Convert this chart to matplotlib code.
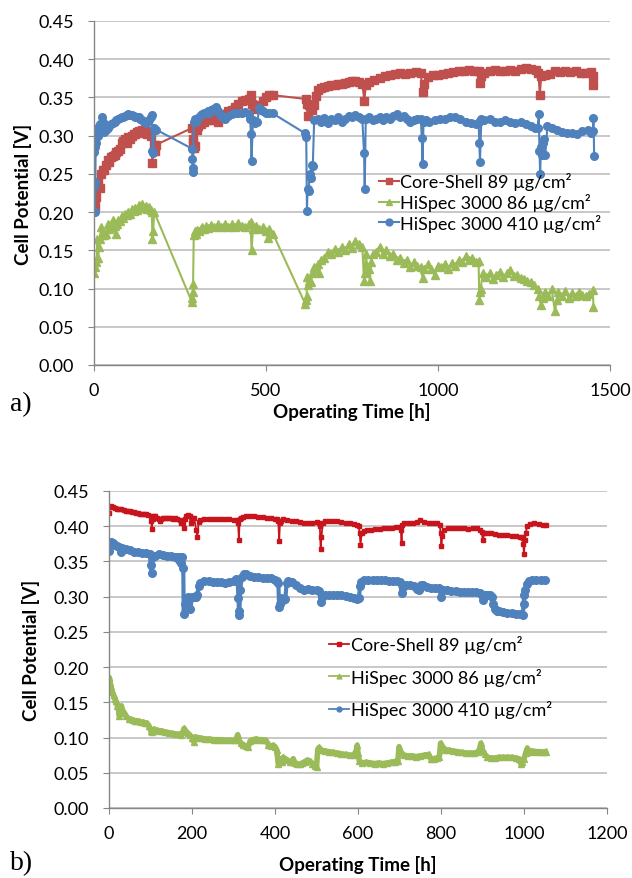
import matplotlib
matplotlib.use("Agg")
import matplotlib.pyplot as plt

# Colours (Excel style)
RED_A = '#C0504D'
RED_B = '#C8141C'
GREEN = '#9BBB59'
BLUE = '#4F81BD'

LABELS = ['Core-Shell 89 µg/cm²', 'HiSpec 3000 86 µg/cm²', 'HiSpec 3000 410 µg/cm²']

# ---------------- panel a) ----------------
t_cs_a = [0, 2, 4, 6, 8, 12, 16, 20, 25, 30, 35, 40, 45, 50, 55, 60, 65, 70, 75, 80, 85, 90, 95, 100,
          105, 110, 115, 120, 125, 130, 135, 140, 145, 150, 155, 160, 165, 170, 173, 176, 180,
          285, 287, 289, 292, 295, 298, 302, 310, 320, 330, 340, 350, 360, 370, 380, 390, 400, 410,
          420, 430, 440, 450, 455, 460, 465, 470, 480, 490, 500, 510, 520,
          615, 618, 621, 625, 630, 635, 640, 645, 650, 660, 670, 680, 690, 700, 710, 720, 730, 740,
          750, 760, 770, 780, 786, 790, 800, 815, 830, 845, 860, 875, 890, 905, 920, 935, 950, 955,
          960, 970, 985, 1000, 1015, 1030, 1045, 1060, 1075, 1090, 1105, 1118, 1122, 1126, 1135,
          1150, 1165, 1180, 1195, 1210, 1225, 1240, 1255, 1270, 1285, 1292, 1296, 1300, 1310, 1325,
          1340, 1355, 1370, 1385, 1400, 1415, 1430, 1445, 1450, 1452]
v_cs_a = [0.215, 0.208, 0.232, 0.22, 0.235, 0.24, 0.232, 0.25, 0.255, 0.255, 0.262, 0.268, 0.265,
          0.272, 0.274, 0.275, 0.278, 0.28, 0.283, 0.29, 0.293, 0.295, 0.29, 0.298,
          0.296, 0.3, 0.302, 0.302, 0.305, 0.306, 0.305, 0.307, 0.304, 0.306, 0.302, 0.303, 0.30,
          0.264, 0.288, 0.28, 0.288,
          0.31, 0.295, 0.29, 0.284, 0.286, 0.308, 0.312, 0.315, 0.318, 0.32, 0.32, 0.322, 0.318,
          0.325, 0.328, 0.332, 0.334, 0.338, 0.342, 0.345, 0.347, 0.348, 0.353, 0.342, 0.338,
          0.335, 0.34, 0.345, 0.35, 0.353, 0.353,
          0.348, 0.342, 0.326, 0.34, 0.338, 0.334, 0.34, 0.352, 0.36, 0.362, 0.364, 0.365, 0.366,
          0.366, 0.367, 0.368, 0.369, 0.37, 0.372, 0.371, 0.37, 0.368, 0.346, 0.366, 0.37, 0.373,
          0.376, 0.378, 0.38, 0.381, 0.382, 0.381, 0.382, 0.383, 0.382, 0.357,
          0.368, 0.377, 0.379, 0.379, 0.381, 0.382, 0.383, 0.384, 0.385, 0.386, 0.385, 0.384,
          0.369, 0.378, 0.382, 0.385, 0.386, 0.385, 0.385, 0.386, 0.385, 0.387, 0.388, 0.387,
          0.386, 0.382, 0.353, 0.378, 0.38, 0.381, 0.384, 0.383, 0.384, 0.383, 0.385, 0.382,
          0.382, 0.383, 0.378, 0.366]

t_hg_a = [0, 1, 3, 5, 8, 10, 12, 15, 18, 20, 23, 26, 30, 35, 40, 45, 50, 55, 60, 63, 66, 70, 75,
          80, 85, 90, 95, 100, 105, 110, 115, 120, 125, 130, 135, 140, 145, 150, 155, 160, 165,
          168, 170, 172, 175,
          285, 286, 287, 288, 290, 293, 297, 300, 305, 310, 315, 320, 325, 330, 340, 350, 360,
          370, 380, 390, 400, 410, 420, 430, 440, 450, 455, 458, 462, 470, 480, 490, 500, 505,
          510, 520,
          614, 616, 618, 620, 623, 626, 630, 635, 640, 645, 650, 655, 660, 670, 680, 690, 700,
          710, 720, 730, 740, 750, 760, 770, 780, 785, 787, 790, 794, 798, 802, 806, 810, 820,
          830, 840, 850, 860, 870, 880, 890, 900, 910, 920, 930, 940, 950, 955, 960, 970, 980,
          990, 1000, 1010, 1020, 1030, 1040, 1050, 1060, 1070, 1080, 1090, 1100, 1110, 1118,
          1120, 1122, 1124, 1130, 1140, 1150, 1160, 1170, 1180, 1190, 1200, 1210, 1220, 1230,
          1240, 1250, 1260, 1270, 1280, 1290, 1295, 1300, 1305, 1310, 1320, 1330, 1340, 1345,
          1350, 1360, 1370, 1380, 1390, 1400, 1410, 1420, 1430, 1440, 1450, 1452]
v_hg_a = [0.12, 0.13, 0.128, 0.135, 0.14, 0.165, 0.14, 0.155, 0.165, 0.18, 0.17, 0.175, 0.17,
          0.172, 0.185, 0.178, 0.18, 0.19, 0.182, 0.172, 0.185, 0.19, 0.188, 0.195, 0.192, 0.198,
          0.196, 0.2, 0.198, 0.204, 0.202, 0.205, 0.203, 0.209, 0.206, 0.21, 0.205, 0.208, 0.204,
          0.207, 0.203, 0.2, 0.165, 0.175, 0.2,
          0.082, 0.088, 0.095, 0.106, 0.17, 0.175, 0.172, 0.177, 0.175, 0.178, 0.18, 0.178,
          0.182, 0.179, 0.183, 0.18, 0.184, 0.181, 0.185, 0.18, 0.184, 0.181, 0.186, 0.182, 0.18,
          0.184, 0.187, 0.15, 0.178, 0.182, 0.178, 0.18, 0.175, 0.166, 0.178, 0.172,
          0.08, 0.085, 0.09, 0.115, 0.105, 0.11, 0.108, 0.12, 0.128, 0.122, 0.132, 0.12, 0.138,
          0.14, 0.148, 0.145, 0.152, 0.148, 0.155, 0.15, 0.158, 0.153, 0.162, 0.158, 0.155, 0.11,
          0.12, 0.145, 0.13, 0.125, 0.11, 0.135, 0.145, 0.148, 0.155, 0.145, 0.15, 0.142, 0.145,
          0.138, 0.14, 0.133, 0.138, 0.128, 0.135, 0.13, 0.128, 0.114, 0.125, 0.132, 0.125,
          0.118, 0.13, 0.128, 0.132, 0.125, 0.133, 0.13, 0.138, 0.135, 0.142, 0.137, 0.14, 0.135,
          0.136, 0.085, 0.095, 0.1, 0.12, 0.115, 0.12, 0.113, 0.118, 0.122, 0.115, 0.12, 0.124,
          0.117, 0.118, 0.114, 0.112, 0.11, 0.108, 0.104, 0.1, 0.09, 0.078, 0.088, 0.095, 0.09,
          0.1, 0.07, 0.085, 0.095, 0.09, 0.097, 0.088, 0.094, 0.09, 0.096, 0.092, 0.09, 0.093,
          0.098, 0.076]

t_hb_a = [0, 1, 2, 3, 4, 5, 7, 9, 12, 15, 18, 22, 26, 30, 35, 40, 45, 50, 55, 60, 65, 70, 75, 80,
          85, 90, 95, 100, 105, 110, 115, 120, 125, 130, 135, 140, 145, 150, 155, 160, 165, 168,
          170, 172, 175, 180,
          285, 286, 287, 288, 290, 293, 297, 300, 305, 310, 315, 320, 325, 330, 335, 340, 345,
          350, 355, 360, 365, 370, 375, 380, 390, 400, 410, 420, 430, 440, 450, 454, 456, 458,
          462, 468, 475, 480, 485, 490, 500, 510, 520,
          614, 617, 619, 621, 624, 627, 630, 633, 636, 640, 650, 660, 670, 680, 690, 700, 710,
          720, 730, 740, 750, 760, 770, 780, 785, 787, 790, 800, 810, 820, 830, 840, 850, 860,
          870, 880, 890, 900, 910, 920, 930, 940, 950, 953, 955, 958, 965, 975, 990, 1005, 1020,
          1035, 1050, 1065, 1080, 1095, 1110, 1118, 1120, 1122, 1126, 1135, 1150, 1165, 1180,
          1195, 1210, 1225, 1240, 1255, 1270, 1282, 1290, 1293, 1295, 1297, 1299, 1302, 1305,
          1308, 1312, 1318, 1330, 1345, 1360, 1375, 1390, 1405, 1420, 1435, 1445, 1450, 1452, 1454]
v_hb_a = [0.233, 0.278, 0.285, 0.2, 0.24, 0.29, 0.305, 0.31, 0.30, 0.305, 0.315, 0.325, 0.318,
          0.305, 0.308, 0.31, 0.312, 0.315, 0.316, 0.318, 0.32, 0.322, 0.323, 0.324, 0.325,
          0.326, 0.327, 0.328, 0.327, 0.327, 0.326, 0.325, 0.325, 0.324, 0.322, 0.32, 0.318,
          0.317, 0.318, 0.32, 0.324, 0.327, 0.28, 0.277, 0.31, 0.308,
          0.283, 0.27, 0.258, 0.252, 0.318, 0.322, 0.318, 0.32, 0.325, 0.327, 0.328, 0.33,
          0.329, 0.332, 0.33, 0.333, 0.335, 0.334, 0.337, 0.332, 0.328, 0.326, 0.324, 0.322,
          0.326, 0.328, 0.33, 0.329, 0.33, 0.331, 0.328, 0.322, 0.302, 0.267, 0.32, 0.316, 0.318,
          0.336, 0.334, 0.332, 0.33, 0.33, 0.329,
          0.303, 0.298, 0.202, 0.23, 0.228, 0.25, 0.245, 0.262, 0.26, 0.32, 0.322, 0.318, 0.323,
          0.316, 0.322, 0.32, 0.325, 0.318, 0.322, 0.326, 0.324, 0.327, 0.325, 0.322, 0.277,
          0.23, 0.322, 0.325, 0.32, 0.322, 0.324, 0.32, 0.325, 0.322, 0.326, 0.328, 0.325, 0.326,
          0.322, 0.318, 0.32, 0.322, 0.322, 0.297, 0.263, 0.318, 0.32, 0.318, 0.32, 0.322, 0.322,
          0.324, 0.324, 0.322, 0.318, 0.316, 0.315, 0.318, 0.29, 0.266, 0.322, 0.32, 0.322,
          0.318, 0.318, 0.32, 0.318, 0.316, 0.318, 0.315, 0.313, 0.31, 0.31, 0.328, 0.28, 0.25,
          0.285, 0.275, 0.29, 0.295, 0.275, 0.312, 0.31, 0.308, 0.305, 0.303, 0.304, 0.302,
          0.306, 0.308, 0.304, 0.306, 0.323, 0.273]

# ---------------- panel b) ----------------
t_cs_b = [0, 2, 5, 10, 15, 20, 25, 30, 35, 40, 45, 50, 55, 60, 65, 70, 75, 80, 85, 90, 95, 100,
          102, 103, 105, 108, 112, 116, 120, 123, 126, 130, 135, 140, 145, 150, 155, 160, 165,
          170, 173, 176, 178, 180, 183, 186, 190, 194, 197, 200, 205, 210, 213, 216, 220, 230,
          240, 250, 260, 270, 280, 290, 300, 308, 311, 313, 315, 318, 322, 330, 340, 350, 360,
          370, 380, 390, 400, 405, 408, 410, 412, 415, 420, 430, 440, 450, 460, 470, 480, 490,
          500, 506, 508, 510, 512, 515, 520, 530, 540, 550, 560, 570, 580,
          590, 597, 602, 604, 606, 609, 614, 622, 632, 642, 652, 662, 672, 682, 692, 700, 703,
          705, 707, 712, 722, 732, 742, 750, 760, 770, 780, 790, 797, 799, 801, 803, 808, 816,
          826, 836, 846, 856, 866, 876, 886, 895, 898, 901, 904, 910, 920, 930, 940, 950, 960,
          970, 980, 990, 995, 997, 998, 1000, 1002, 1004, 1008, 1015, 1025, 1035, 1045, 1052]
v_cs_b = [0.419, 0.427, 0.428, 0.427, 0.426, 0.425, 0.425, 0.424, 0.423, 0.422, 0.422, 0.421,
          0.42, 0.42, 0.419, 0.419, 0.418, 0.418, 0.417, 0.417, 0.416, 0.415,
          0.408, 0.396, 0.41, 0.414, 0.415, 0.412, 0.41, 0.407, 0.41, 0.412, 0.411, 0.412, 0.411,
          0.411, 0.41, 0.412, 0.41, 0.409, 0.405, 0.408, 0.404, 0.398, 0.41, 0.414, 0.416, 0.415,
          0.404, 0.412, 0.412, 0.395, 0.385, 0.406, 0.409, 0.41, 0.41, 0.41, 0.41, 0.41, 0.41,
          0.41, 0.409, 0.409, 0.404, 0.381, 0.41, 0.412, 0.413, 0.414, 0.415, 0.414, 0.413,
          0.413, 0.412, 0.411, 0.41, 0.41, 0.407, 0.379, 0.405, 0.408, 0.41, 0.409, 0.408, 0.407,
          0.406, 0.405, 0.405, 0.405, 0.406, 0.404, 0.4, 0.367, 0.385, 0.404, 0.407, 0.407,
          0.407, 0.407, 0.406, 0.405, 0.404,
          0.403, 0.402, 0.401, 0.39, 0.374, 0.39, 0.393, 0.394, 0.395, 0.396, 0.396, 0.397,
          0.398, 0.398, 0.399, 0.399, 0.395, 0.376, 0.402, 0.404, 0.405, 0.405, 0.406, 0.409,
          0.406, 0.405, 0.404, 0.404, 0.402, 0.39, 0.372, 0.386, 0.394, 0.397, 0.398, 0.397,
          0.397, 0.397, 0.396, 0.397, 0.397, 0.395, 0.392, 0.38, 0.39, 0.39, 0.39, 0.389, 0.388,
          0.387, 0.387, 0.386, 0.386, 0.385, 0.384, 0.383, 0.375, 0.36, 0.38, 0.39, 0.401,
          0.403, 0.404, 0.403, 0.402, 0.402]

t_hg_b = [0, 1, 3, 5, 8, 11, 14, 17, 20, 23, 25, 27, 30, 33, 37, 42, 47, 52, 57, 62, 67, 72, 77,
          82, 87, 92, 96, 100, 104, 108, 113, 120, 128, 136, 144, 152, 160, 168, 174, 178, 181,
          185, 190, 196, 200, 204, 208, 214, 222, 232, 242, 252, 262, 272, 282, 292, 300, 306,
          310, 313, 318, 324, 330, 336, 340, 346, 354, 362, 370, 378, 384, 390, 396, 400, 404,
          408, 412, 416, 420, 425, 430, 435, 440, 444, 448, 454, 460, 466, 472, 478, 484, 490,
          496, 500, 503, 506, 512, 520, 530, 540, 550, 560, 570, 580, 590, 596, 598, 600, 603,
          610, 620, 630, 640, 650, 660, 670, 680, 690, 696, 699, 703, 710, 720, 730, 740, 750,
          760, 770, 775, 782, 790, 796, 799, 803, 810, 820, 830, 840, 850, 860, 870, 880, 888,
          893, 896, 900, 906, 912, 920, 930, 940, 950, 960, 970, 980, 988, 992, 996, 1000, 1004,
          1008, 1014, 1020, 1030, 1040, 1048, 1052]
v_hg_b = [0.175, 0.185, 0.178, 0.172, 0.165, 0.16, 0.155, 0.152, 0.145, 0.14, 0.13, 0.142, 0.145,
          0.138, 0.135, 0.13, 0.127, 0.126, 0.125, 0.124, 0.124, 0.123, 0.122, 0.122, 0.121,
          0.12, 0.117, 0.11, 0.108, 0.112, 0.111, 0.11, 0.109, 0.108, 0.107, 0.106, 0.105, 0.105,
          0.104, 0.108, 0.113, 0.109, 0.106, 0.103, 0.1, 0.094, 0.101, 0.1, 0.099, 0.098, 0.098,
          0.097, 0.097, 0.097, 0.096, 0.096, 0.096, 0.097, 0.104, 0.096, 0.092, 0.09, 0.088,
          0.087, 0.095, 0.097, 0.098, 0.097, 0.097, 0.096, 0.09, 0.088, 0.089, 0.087, 0.083,
          0.062, 0.07, 0.066, 0.072, 0.07, 0.068, 0.066, 0.065, 0.07, 0.064, 0.063, 0.062, 0.064,
          0.066, 0.068, 0.067, 0.063, 0.059, 0.058, 0.083, 0.086, 0.082, 0.081, 0.08, 0.079,
          0.078, 0.077, 0.076, 0.075, 0.075, 0.082, 0.089, 0.078, 0.067, 0.064, 0.065, 0.064,
          0.063, 0.064, 0.063, 0.064, 0.065, 0.066, 0.067, 0.087, 0.08, 0.075, 0.074, 0.074,
          0.073, 0.074, 0.075, 0.076, 0.07, 0.07, 0.071, 0.072, 0.092, 0.088, 0.083, 0.082,
          0.081, 0.08, 0.079, 0.078, 0.078, 0.078, 0.079, 0.084, 0.092, 0.082, 0.076, 0.072,
          0.071, 0.071, 0.072, 0.072, 0.072, 0.072, 0.071, 0.07, 0.063, 0.066, 0.07, 0.078,
          0.085, 0.08, 0.081, 0.08, 0.08, 0.079, 0.08]

t_hb_b = [0, 2, 5, 10, 15, 20, 25, 28, 32, 40, 50, 60, 70, 80, 90, 98, 101, 103, 105, 110, 120,
          130, 140, 150, 160, 165, 168, 171, 174, 177, 179, 180, 182, 185, 190, 194, 196, 200,
          205, 210, 213, 216, 220, 230, 240, 250, 260, 270, 280, 290, 300, 306, 310, 312, 313,
          314, 316, 320, 325, 330, 340, 350, 360, 370, 380, 390, 400, 405, 408, 410, 412, 415,
          420, 425, 428, 432, 440, 450, 460, 470, 480, 490, 500, 507, 510, 514, 520, 530, 540,
          550, 560, 570, 580,
          590, 597, 602, 605, 608, 615, 625, 635, 645, 655, 665, 675, 685, 695, 701, 705, 709,
          716, 726, 736, 741, 746, 751, 756, 766, 776, 786, 795, 799, 801, 805, 815, 825, 835,
          845, 855, 865, 875, 885, 895, 899, 902, 906, 912, 918, 922, 926, 930, 935, 940, 950,
          960, 970, 980, 990, 997, 999, 1001, 1003, 1007, 1012, 1020, 1030, 1040, 1050]
v_hb_b = [0.365, 0.378, 0.378, 0.376, 0.374, 0.372, 0.37, 0.363, 0.369, 0.367, 0.366, 0.364,
          0.363, 0.362, 0.362, 0.36, 0.345, 0.333, 0.357, 0.358, 0.36, 0.359, 0.358, 0.358, 0.357,
          0.356, 0.352, 0.357, 0.348, 0.356, 0.34, 0.275, 0.29, 0.296, 0.3, 0.298, 0.282, 0.3,
          0.3, 0.3, 0.302, 0.315, 0.32, 0.322, 0.322, 0.321, 0.321, 0.321, 0.32, 0.321, 0.322,
          0.325, 0.322, 0.298, 0.28, 0.274, 0.31, 0.328, 0.332, 0.332, 0.33, 0.328, 0.328, 0.327,
          0.327, 0.326, 0.323, 0.322, 0.32, 0.285, 0.29, 0.298, 0.295, 0.297, 0.32, 0.322, 0.321,
          0.316, 0.312, 0.31, 0.311, 0.31, 0.31, 0.308, 0.292, 0.3, 0.302, 0.302, 0.302, 0.302,
          0.302, 0.301, 0.3,
          0.298, 0.297, 0.298, 0.315, 0.321, 0.323, 0.323, 0.323, 0.323, 0.323, 0.323, 0.322,
          0.322, 0.322, 0.321, 0.305, 0.314, 0.317, 0.317, 0.315, 0.311, 0.31, 0.317, 0.316,
          0.314, 0.313, 0.313, 0.312, 0.31, 0.299, 0.309, 0.309, 0.308, 0.308, 0.307, 0.307,
          0.306, 0.306, 0.306, 0.305, 0.303, 0.295, 0.303, 0.303, 0.302, 0.3, 0.29, 0.283, 0.28,
          0.279, 0.278, 0.277, 0.277, 0.276, 0.275, 0.274, 0.29, 0.303, 0.31, 0.318, 0.322,
          0.323, 0.323, 0.323, 0.323]

plt.rcParams['font.family'] = ['Lato', 'DejaVu Sans']
GRID = '#BFBFBF'
AXIS = '#868686'


def style_axes(ax, xmax, xstep):
    """Excel-like look: horizontal grid, grey left/bottom axis, outward ticks."""
    ax.set_ylim(0, 0.45)
    ax.set_yticks([i * 0.05 for i in range(10)])
    ax.set_yticklabels([f'{i * 0.05:.2f}' for i in range(10)])
    ax.set_xlim(0, xmax)
    ax.set_xticks(list(range(0, xmax + 1, xstep)))
    ax.yaxis.grid(True, color=GRID, lw=1.2)
    ax.set_axisbelow(True)
    for side in ['top', 'right']:
        ax.spines[side].set_visible(False)
    for side in ['left', 'bottom']:
        ax.spines[side].set_color(AXIS)
        ax.spines[side].set_linewidth(1.0)
    ax.tick_params(axis='both', direction='out', length=4.5, color=AXIS, labelsize=13,
                   labelcolor='black')
    ax.tick_params(axis='y', pad=10)
    ax.tick_params(axis='x', pad=8)
    ax.set_ylabel('Cell Potential [V]', fontsize=13.5, fontweight='bold', va='center')
    ax.set_xlabel('Operating Time [h]', fontsize=13.5, fontweight='bold', va='center')


fig = plt.figure(figsize=(6.32, 8.79), dpi=100)

# panel a)
ax1 = fig.add_axes([94 / 632, 1 - 366 / 879, 516 / 632, 344 / 879])
ax1.plot(t_cs_a, v_cs_a, color=RED_A, marker='s', ms=5.5, lw=1.5, label=LABELS[0])
ax1.plot(t_hg_a, v_hg_a, color=GREEN, marker='^', ms=5.5, lw=1.5, label=LABELS[1])
ax1.plot(t_hb_a, v_hb_a, color=BLUE, marker='o', ms=5.5, lw=1.5, label=LABELS[2])
style_axes(ax1, 1500, 500)
ax1.yaxis.set_label_coords((23 - 94) / 516, 0.5)
ax1.xaxis.set_label_coords(0.5, (366 - 412) / 344)
ax1.legend(loc='upper left', bbox_to_anchor=(0.552, 0.56), frameon=False, fontsize=13,
           handlelength=1.1, handletextpad=0.1, borderaxespad=0, labelspacing=0.15,
           borderpad=0, markerscale=0.9)
fig.text(10 / 632, 1 - 405 / 879, 'a)', fontsize=20, family='Liberation Serif', va='center')

# panel b)
ax2 = fig.add_axes([109 / 632, 1 - 809 / 879, 498 / 632, 317 / 879])
ax2.plot(t_cs_b, v_cs_b, color=RED_B, marker='s', ms=3, lw=1.3, label=LABELS[0])
ax2.plot(t_hg_b, v_hg_b, color=GREEN, marker='^', ms=5, lw=4, label=LABELS[1])
ax2.plot(t_hb_b, v_hb_b, color=BLUE, marker='o', ms=5.5, lw=3, label=LABELS[2])
style_axes(ax2, 1200, 200)
ax2.yaxis.set_label_coords((31 - 109) / 498, 0.5)
ax2.xaxis.set_label_coords(0.5, (809 - 865) / 317)
leg2 = ax2.legend(loc='upper left', bbox_to_anchor=(0.442, 0.545), frameon=False, fontsize=13,
                  handlelength=1.1, handletextpad=0.1, borderaxespad=0, labelspacing=0.8,
                  borderpad=0)
for line in leg2.get_lines():
    line.set_linewidth(1.3)
    line.set_markersize(3.5)
fig.text(10 / 632, 1 - 864 / 879, 'b)', fontsize=20, family='Liberation Serif', va='center')

fig.savefig('out.png', dpi=100)
